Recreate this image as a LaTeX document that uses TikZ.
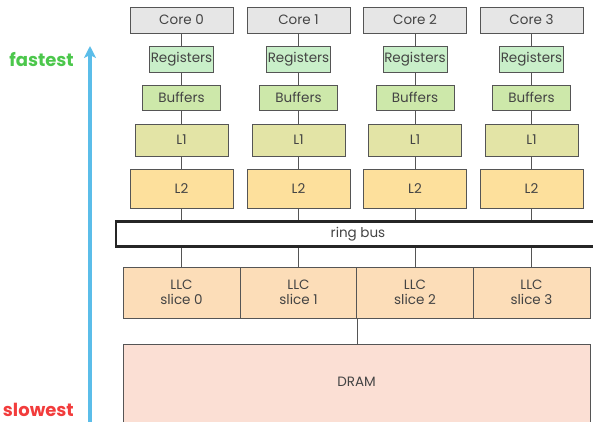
\documentclass[tikz,border=0pt]{standalone}
\usepackage{fontspec}
\setmainfont{Poppins}
\usetikzlibrary{arrows.meta}
\definecolor{txt}{HTML}{444444}
\definecolor{edge}{HTML}{555555}
\definecolor{corefill}{HTML}{E6E6E6}
\definecolor{regfill}{HTML}{C9EFC9}
\definecolor{buffill}{HTML}{CDE8AA}
\definecolor{lonefill}{HTML}{E3E4A6}
\definecolor{ltwofill}{HTML}{FDE09C}
\definecolor{llcfill}{HTML}{FCDDB8}
\definecolor{dramfill}{HTML}{FBDFD4}
\definecolor{speedarrow}{HTML}{5BBDE9}
\definecolor{fastcol}{HTML}{4CC74C}
\definecolor{slowcol}{HTML}{F23C3C}
\tikzset{
  boxfont/.style={font=\fontsize{13.5}{15}\selectfont},
  unit/.style={draw=edge, line width=0.8pt, text=txt, boxfont,
    inner sep=0pt, align=center},
  corebox/.style={unit, fill=corefill, minimum width=103, minimum height=26},
  regbox/.style={unit, fill=regfill, minimum width=64, minimum height=26},
  bufbox/.style={unit, fill=buffill, minimum width=78, minimum height=25},
  lonebox/.style={unit, fill=lonefill, minimum width=93, minimum height=32},
  ltwobox/.style={unit, fill=ltwofill, minimum width=103, minimum height=39},
  llcbox/.style={unit, fill=llcfill, minimum width=117, minimum height=51},
  link/.style={draw=edge, line width=0.8pt},
}
\begin{document}
\begin{tikzpicture}[x=1pt, y=-1pt]
\useasboundingbox (0,0) rectangle (593,422);

% DRAM (bottom edge runs off the page)
\node[unit, fill=dramfill, minimum width=467, minimum height=90, anchor=north west] (dram) at (123,344) {};
\node[text=txt, boxfont] (dramlabel) at (356.5,382) {DRAM};

% ring bus
\node[draw=black!85, line width=2.6pt, fill=white, minimum width=484, minimum height=25,
      text=txt, boxfont, inner sep=0pt] (bus) at (358,234) {ring bus};

% per-core stacks
\foreach \i/\x in {0/181.5, 1/298.5, 2/415, 3/531.5} {
  \node[corebox] (core\i) at (\x,20) {Core \i};
  \node[regbox]  (reg\i)  at (\x,59) {Registers};
  \node[bufbox]  (buf\i)  at (\x,97.5) {Buffers};
  \node[lonebox] (lone\i) at (\x,140) {L1};
  \node[ltwobox] (ltwo\i) at (\x,188.5) {L2};
  \node[llcbox]  (llc\i)  at (\x,292.5) {LLC\\slice \i};
  \draw[link] (core\i) -- (reg\i);
  \draw[link] (reg\i) -- (buf\i);
  \draw[link] (buf\i) -- (lone\i);
  \draw[link] (lone\i) -- (ltwo\i);
  \draw[link] (ltwo\i) -- (ltwo\i |- bus.north);
  \draw[link] (llc\i |- bus.south) -- (llc\i);
}

% LLC to DRAM
\draw[link] (llc1.south east) -- (llc1.south east |- dram.north);

% speed axis
\coordinate (axisbottom) at (90,425);
\coordinate (axistop) at (90,46);
\draw[speedarrow, line width=3.2pt, -{Stealth[length=12pt, width=12pt, inset=3pt]}] (axisbottom) -- (axistop);
\node[text=fastcol, font=\fontsize{18}{20}\bfseries\selectfont, anchor=east, inner sep=0pt] (fast) at (74,60) {fastest};
\node[text=slowcol, font=\fontsize{18}{20}\bfseries\selectfont, anchor=east, inner sep=0pt] (slow) at (74,410) {slowest};
\end{tikzpicture}
\end{document}
